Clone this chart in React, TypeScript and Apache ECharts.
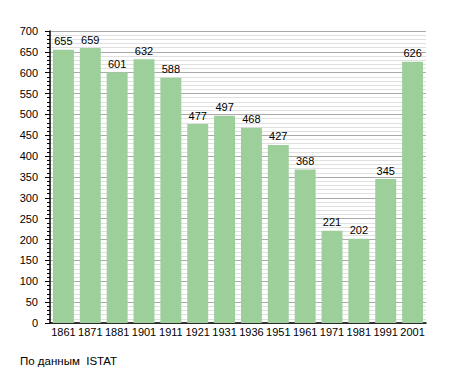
import React, { useEffect, useRef } from "react";
import * as echarts from "echarts";

const years = ["1861", "1871", "1881", "1901", "1911", "1921", "1931", "1936", "1951", "1961", "1971", "1981", "1991", "2001"];
const population = [655, 659, 601, 632, 588, 477, 497, 468, 427, 368, 221, 202, 345, 626];
const sourceNote = "По данным  ISTAT";

export default function App() {
  const ref = useRef<HTMLDivElement>(null);
  useEffect(() => {
    if (!ref.current) return;
    const chart = echarts.init(ref.current, null, { renderer: "svg" });
    const font = "'Liberation Sans', Arial, sans-serif";
    chart.setOption({
      animation: false,
      backgroundColor: "#ffffff",
      grid: { left: 50, right: 29, top: 31, bottom: 50, containLabel: false },
      xAxis: {
        type: "category",
        data: years,
        axisLine: { show: true, lineStyle: { color: "#000", width: 1.5 } },
        axisTick: { show: false },
        axisLabel: { color: "#000", fontSize: 11, fontFamily: font, margin: 3, interval: 0 },
        splitLine: { show: false },
      },
      yAxis: {
        type: "value",
        min: 0,
        max: 700,
        interval: 50,
        axisLine: { show: true, lineStyle: { color: "#000", width: 1.5 } },
        axisTick: { show: true, inside: false, length: 5, lineStyle: { color: "#000" } },
        minorTick: { show: true, splitNumber: 5, length: 3, lineStyle: { color: "#000" } },
        axisLabel: { color: "#000", fontSize: 11, fontFamily: font, margin: 12 },
        splitLine: { show: true, lineStyle: { color: "#aaaaaa", width: 1 } },
        minorSplitLine: { show: true, lineStyle: { color: "#e0e0e0", width: 1 } },
      },
      series: [
        {
          type: "bar",
          data: population,
          barWidth: "78%",
          itemStyle: { color: "#9dcf9b" },
          label: { show: true, position: "top", distance: 3, color: "#000", fontSize: 11, fontFamily: font },
        },
      ],
      graphic: [
        {
          type: "text",
          left: 20,
          top: 355,
          style: { text: sourceNote, fill: "#000", fontSize: 11.5, fontFamily: font },
        },
      ],
    });
    return () => chart.dispose();
  }, []);
  return <div ref={ref} style={{ width: 455, height: 373, position: "absolute", left: 0, top: 0 }} />;
}
